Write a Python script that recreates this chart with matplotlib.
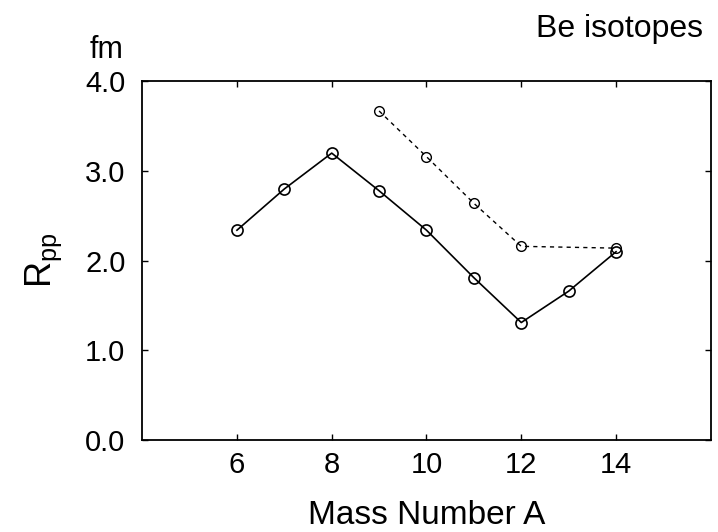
import matplotlib
matplotlib.use("Agg")
import matplotlib.pyplot as plt

# Be isotopes, R_pp vs mass number

plt.rcParams['font.family'] = ['Liberation Sans', 'DejaVu Sans']
plt.rcParams['mathtext.default'] = 'regular'

mass_solid = [6, 7, 8, 9, 10, 11, 12, 13, 14]
rpp_solid = [2.34, 2.80, 3.20, 2.78, 2.34, 1.81, 1.31, 1.66, 2.10]

mass_dashed = [9, 10, 11, 12, 14]
rpp_dashed = [3.67, 3.16, 2.64, 2.16, 2.14]

x_ticks = [6, 8, 10, 12, 14]
y_ticks = [0.0, 1.0, 2.0, 3.0, 4.0]
y_ticklabels = ['0.0', '1.0', '2.0', '3.0', '4.0']

fig = plt.figure(figsize=(7.18, 5.32), dpi=100)
ax = fig.add_axes([0.198, 0.173, 0.792, 0.674])

ax.plot(mass_solid, rpp_solid, color='black', linewidth=1.2,
        marker='o', markersize=8, markerfacecolor='none',
        markeredgecolor='black', markeredgewidth=1.2)
ax.plot(mass_dashed, rpp_dashed, color='black', linewidth=1.0,
        linestyle=(0, (3, 3)),
        marker='o', markersize=7, markerfacecolor='none',
        markeredgecolor='black', markeredgewidth=1.0)

ax.set_xlim(4, 16)
ax.set_ylim(0, 4)
ax.set_xticks(x_ticks)
ax.set_yticks(y_ticks)
ax.set_yticklabels(y_ticklabels)

ax.tick_params(direction='in', length=4, width=1.0, top=True, right=True,
               labelsize=21, pad=8)
ax.tick_params(axis='y', pad=12)
for s in ax.spines.values():
    s.set_linewidth(1.3)

ax.set_xlabel('Mass Number A', fontsize=24, labelpad=15)
ax.set_ylabel(r'$R_{pp}$', fontsize=26, labelpad=15)

fig.text(90 / 718, 1 - 58 / 532, 'fm', fontsize=22, ha='left', va='baseline')
fig.text(703 / 718, 1 - 37 / 532, 'Be isotopes', fontsize=23,
         ha='right', va='baseline')

fig.savefig('out.png', dpi=100)
